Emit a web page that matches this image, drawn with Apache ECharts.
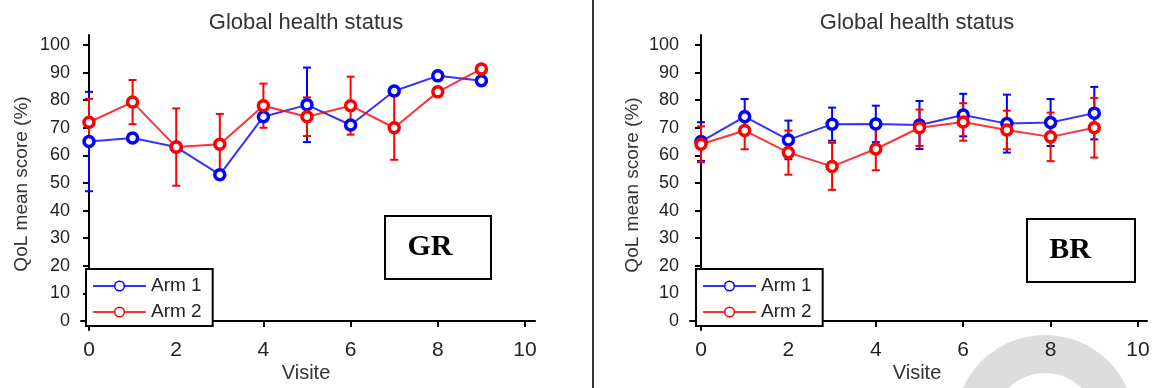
<!DOCTYPE html>
<html>
<head>
<meta charset="utf-8">
<script src="https://cdn.jsdelivr.net/npm/echarts@6/dist/echarts.min.js"></script>
<style>html,body{margin:0;padding:0;background:#fff}#c{width:1157px;height:388px}</style>
</head>
<body>
<div id="c"></div>
<script>
// ---- data ----
const visits = [0, 1, 2, 3, 4, 5, 6, 7, 8, 9];
const xTicks = [0, 2, 4, 6, 8, 10];
const yTicks = [0, 10, 20, 30, 40, 50, 60, 70, 80, 90, 100];
const seriesNames = ['Arm 1', 'Arm 2'];
const panelTitles = ['Global health status', 'Global health status'];
const panelTags = ['GR', 'BR'];
const yName = 'QoL mean score (%)';
const xName = 'Visite';

// GR panel
const grArm1 = [65, 66.3, 63, 53, 74, 78.3, 71, 83.3, 88.8, 87];
const grArm1Err = [18, null, null, null, null, 13.5, null, null, null, null];
const grArm2 = [72, 79.3, 63, 64, 78, 74, 78, 70, 83, 91.3];
const grArm2Err = [8.5, 8, 14, 11, 8, 7, 10.5, 11.6, null, null];

// BR panel
const brArm1 = [65, 74, 65.6, 71.3, 71.4, 71, 74.6, 71.5, 71.9, 75.3];
const brArm1Err = [7, 6.4, 7, 6, 6.6, 8.7, 7.7, 10.5, 8.5, 9.5];
const brArm2 = [64, 69, 61, 56, 62.3, 70, 72.1, 69.2, 66.7, 70];
const brArm2Err = [6.5, 6.8, 8, 8.5, 7.7, 6.6, 6.8, 7, 8.8, 10.8];

const BLUE = '#0000ff', RED = '#ff0000';
const FONT = "'Liberation Sans', Arial, sans-serif";

function errData(vals, errs) {
  const out = [];
  visits.forEach((v, i) => {
    if (errs[i] != null) out.push([v, vals[i] - errs[i], vals[i] + errs[i]]);
  });
  return out;
}
function errRender(params, api) {
  const x = api.value(0), lo = api.value(1), hi = api.value(2);
  const t = api.coord([x, hi]), b = api.coord([x, lo]);
  const hw = 4;
  const style = { stroke: api.visual('color'), lineWidth: 2 };
  return {
    type: 'group', children: [
      { type: 'line', shape: { x1: t[0], y1: t[1], x2: b[0], y2: b[1] }, style },
      { type: 'line', shape: { x1: t[0] - hw, y1: t[1], x2: t[0] + hw, y2: t[1] }, style },
      { type: 'line', shape: { x1: b[0] - hw, y1: b[1], x2: b[0] + hw, y2: b[1] }, style }
    ]
  };
}
function lineSeries(name, vals, color, idx) {
  return {
    type: 'line', name, xAxisIndex: idx, yAxisIndex: idx,
    data: visits.map((v, i) => [v, vals[i]]),
    symbol: 'circle', symbolSize: 10,
    itemStyle: { color: '#ffffff', borderColor: color, borderWidth: 3.5 },
    lineStyle: { color, width: 2, opacity: 0.8 },
    z: 3
  };
}
function errSeries(name, vals, errs, color, idx) {
  return {
    type: 'custom', name: name + ' err', xAxisIndex: idx, yAxisIndex: idx,
    data: errData(vals, errs), renderItem: errRender,
    itemStyle: { color }, z: 2
  };
}

const yMin = -3.26, yMax = 103.6;
const grids = [
  { left: 81, top: 35, width: 454, height: 295 },
  { left: 690, top: 35, width: 457, height: 295 }
];
const xRanges = [[-0.1835, 10.229], [-0.2517, 10.206]];

function xAxis(i) {
  return {
    type: 'value', gridIndex: i, min: xRanges[i][0], max: xRanges[i][1],
    splitLine: { show: false },
    axisLine: { show: true, lineStyle: { color: '#000', width: 2 } },
    axisTick: { show: true, length: 6, lineStyle: { color: '#000', width: 2 }, customValues: xTicks },
    axisLabel: { customValues: xTicks, fontSize: 21, color: '#222', fontFamily: FONT, margin: 10 }
  };
}
function yAxis(i) {
  return {
    type: 'value', gridIndex: i, min: yMin, max: yMax,
    splitLine: { show: false },
    axisLine: { show: true, lineStyle: { color: '#000', width: 2 } },
    axisTick: { show: true, length: 6, lineStyle: { color: '#000', width: 2 }, customValues: yTicks },
    axisLabel: { customValues: yTicks, fontSize: 18, color: '#222', fontFamily: FONT, margin: 11 }
  };
}
function legend(left, top) {
  return {
    data: seriesNames, orient: 'vertical', left, top,
    itemWidth: 53, itemHeight: 12, itemGap: 6,
    padding: [7, 11, 4, 6],
    borderColor: '#000', borderWidth: 2, backgroundColor: '#fff',
    itemStyle: { borderWidth: 1.5 },
    textStyle: { fontSize: 19, color: '#222', fontFamily: FONT, lineHeight: 20 },
    selectedMode: false
  };
}

const graphic = [
  { type: 'line', shape: { x1: 593, y1: 0, x2: 593, y2: 388 }, style: { stroke: '#333', lineWidth: 2 }, z: 10 },
  { type: 'sector', shape: { cx: 1045, cy: 425, r: 90, r0: 52, startAngle: 0, endAngle: Math.PI * 2 }, style: { fill: '#dcdcdc' }, z: -10 },
  { type: 'text', x: 306, y: 23, style: { text: panelTitles[0], font: '22px ' + FONT, fill: '#333', textAlign: 'center', textVerticalAlign: 'middle' } },
  { type: 'text', x: 917, y: 23, style: { text: panelTitles[1], font: '22px ' + FONT, fill: '#333', textAlign: 'center', textVerticalAlign: 'middle' } },
  { type: 'text', x: 22, y: 184, rotation: Math.PI / 2, style: { text: yName, font: '19px ' + FONT, fill: '#333', textAlign: 'center', textVerticalAlign: 'middle' } },
  { type: 'text', x: 633, y: 185, rotation: Math.PI / 2, style: { text: yName, font: '19px ' + FONT, fill: '#333', textAlign: 'center', textVerticalAlign: 'middle' } },
  { type: 'text', x: 306, y: 373, style: { text: xName, font: '20px ' + FONT, fill: '#333', textAlign: 'center', textVerticalAlign: 'middle' } },
  { type: 'text', x: 917, y: 373, style: { text: xName, font: '20px ' + FONT, fill: '#333', textAlign: 'center', textVerticalAlign: 'middle' } },
  { type: 'rect', shape: { x: 385, y: 216, width: 106, height: 63 }, style: { fill: '#fff', stroke: '#000', lineWidth: 2 }, z: 5 },
  { type: 'text', x: 430, y: 247, z: 6, style: { text: panelTags[0], font: "bold 30px 'Liberation Serif', 'Times New Roman', serif", fill: '#000', textAlign: 'center', textVerticalAlign: 'middle' } },
  { type: 'rect', shape: { x: 1027, y: 219, width: 108, height: 63 }, style: { fill: '#fff', stroke: '#000', lineWidth: 2 }, z: 5 },
  { type: 'text', x: 1070, y: 250, z: 6, style: { text: panelTags[1], font: "bold 30px 'Liberation Serif', 'Times New Roman', serif", fill: '#000', textAlign: 'center', textVerticalAlign: 'middle' } }
];

const chart = echarts.init(document.getElementById('c'), null, { renderer: 'canvas' });
chart.setOption({
  animation: false,
  backgroundColor: '#fff',
  grid: grids,
  xAxis: [xAxis(0), xAxis(1)],
  yAxis: [yAxis(0), yAxis(1)],
  legend: [legend(86, 269), legend(696, 269)],
  graphic,
  series: [
    errSeries('Arm 1', grArm1, grArm1Err, BLUE, 0),
    lineSeries('Arm 1', grArm1, BLUE, 0),
    errSeries('Arm 2', grArm2, grArm2Err, RED, 0),
    lineSeries('Arm 2', grArm2, RED, 0),
    errSeries('Arm 1', brArm1, brArm1Err, BLUE, 1),
    lineSeries('Arm 1', brArm1, BLUE, 1),
    errSeries('Arm 2', brArm2, brArm2Err, RED, 1),
    lineSeries('Arm 2', brArm2, RED, 1)
  ]
});
</script>
</body>
</html>
